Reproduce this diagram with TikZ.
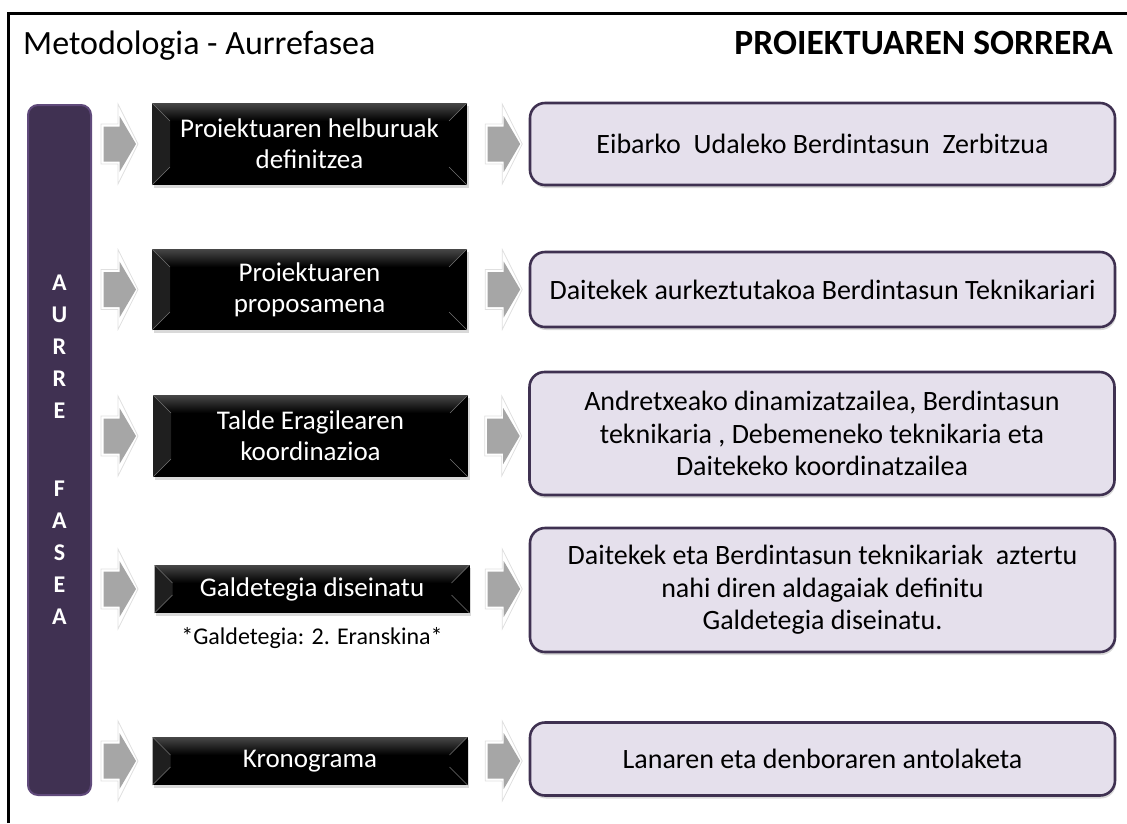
\documentclass[tikz,border=0pt]{standalone}
\usepackage{fontspec}
\setmainfont{Carlito}
\usetikzlibrary{calc,shadows}
\definecolor{barP}{RGB}{64,49,82}
\definecolor{barE}{RGB}{96,74,123}
\definecolor{resF}{RGB}{229,224,236}
\definecolor{resE}{RGB}{63,49,81}
\definecolor{arrG}{RGB}{166,166,166}
\newcommand{\bev}{18pt}
\tikzset{
  heading/.style={inner sep=0pt,font=\fontsize{34}{40}\selectfont},
  phasebar/.style={fill=barP,draw=barE,line width=2pt,rounded corners=10pt,text=white,
    align=center,font=\bfseries\fontsize{24}{32}\selectfont},
  task/.style={fill=black,text=white,minimum width=315pt,align=center,inner sep=0pt,
    font=\fontsize{27}{31}\selectfont,
    drop shadow={shadow xshift=1.5pt,shadow yshift=-2.5pt,opacity=0.3},
    path picture={
      \path (path picture bounding box.north west) coordinate (bNW)
            (path picture bounding box.north east) coordinate (bNE)
            (path picture bounding box.south east) coordinate (bSE)
            (path picture bounding box.south west) coordinate (bSW);
      \shade[top color=black!72,bottom color=black] (bNW) -- (bNE) -- ($(bNE)+(-\bev,-\bev)$) -- ($(bNW)+(\bev,-\bev)$) -- cycle;
      \fill[black!88] (bNW) -- ($(bNW)+(\bev,-\bev)$) -- ($(bSW)+(\bev,\bev)$) -- (bSW) -- cycle;
      \draw[black!55,thin] (bNW) -- ++(\bev,-\bev) (bNE) -- ++(-\bev,-\bev) (bSW) -- ++(\bev,\bev) (bSE) -- ++(-\bev,\bev);
    }},
  result/.style={fill=resF,draw=resE,line width=2.6pt,rounded corners=15pt,minimum width=585pt,
    align=center,inner sep=0pt,font=\fontsize{28}{32.5}\selectfont,
    drop shadow={shadow xshift=1pt,shadow yshift=-3pt,opacity=0.3}},
  note/.style={inner sep=0pt,font=\fontsize{24}{28}\selectfont},
  garrow/.pic={
    \filldraw[fill=white,draw=black!12,line width=0.8pt] (-18.5,-20) -- (-1.5,-20) -- (-1.5,-40) -- (18.5,0) -- (-1.5,40) -- (-1.5,20) -- (-18.5,20) -- cycle;
    \fill[arrG] (-16,-17.5) -- (0,-17.5) -- (0,-28) -- (16.5,0) -- (0,28) -- (0,17.5) -- (-16,17.5) -- cycle;
  }
}
\begin{document}
\begin{tikzpicture}[x=1pt,y=-1pt]
\useasboundingbox (0,0) rectangle (1127,823);
% frame and headings
\draw[line width=3pt] (8,823) -- (8,13) -- (1127,13);
\node[heading,anchor=base west] (title) at (23,54) {Metodologia - Aurrefasea};
\node[heading,font=\bfseries\fontsize{35.5}{40}\selectfont,anchor=base east] (phase) at (1113,54) {PROIEKTUAREN SORRERA};
% phase bar
\node[phasebar,minimum width=63pt,minimum height=690pt] (bar) at (59.5,450) {A\\U\\R\\R\\E\\[46pt]F\\A\\S\\E\\A};
% tasks (black boxes)
\node[task,minimum height=82pt] (t1) at (309.5,144) {Proiektuaren helburuak\\definitzea};
\node[task,minimum height=81pt] (t2) at (309.5,289.5) {Proiektuaren\\proposamena};
\node[task,minimum height=82pt] (t3) at (310.5,436) {Talde Eragilearen\\koordinazioa};
\node[task,minimum height=48pt] (t4) at (312,589) {Galdetegia diseinatu};
\node[task,minimum height=48pt] (t5) at (310,761) {Kronograma};
\node[note] (n4) at ($(t4.south)+(0,25)$) {*Galdetegia: 2. Eranskina*};
% results (rounded boxes)
\node[result,minimum height=82pt] (r1) at (822.5,144) {Eibarko\ \ Udaleko Berdintasun\ \ Zerbitzua};
\node[result,minimum height=75pt] (r2) at (822.5,289.5) {Daitekek aurkeztutakoa Berdintasun Teknikariari};
\node[result,minimum height=123pt] (r3) at (822,433.5) {Andretxeako dinamizatzailea, Berdintasun\\teknikaria , Debemeneko teknikaria eta\\Daitekeko koordinatzailea};
\node[result,minimum height=124pt] (r4) at (822.5,590) {Daitekek eta Berdintasun teknikariak\ \ aztertu\\nahi diren aldagaiak definitu\\Galdetegia diseinatu.};
\node[result,minimum height=73pt] (r5) at (822.5,759) {Lanaren eta denboraren antolaketa};
% gray arrows
\foreach \r in {1,...,5} {
  \pic at ($(bar.east |- t\r)+(27.5,0)$) {garrow};
  \pic at ($(r\r.west |- t\r)+(-25,0)$) {garrow};
}
\end{tikzpicture}
\end{document}
